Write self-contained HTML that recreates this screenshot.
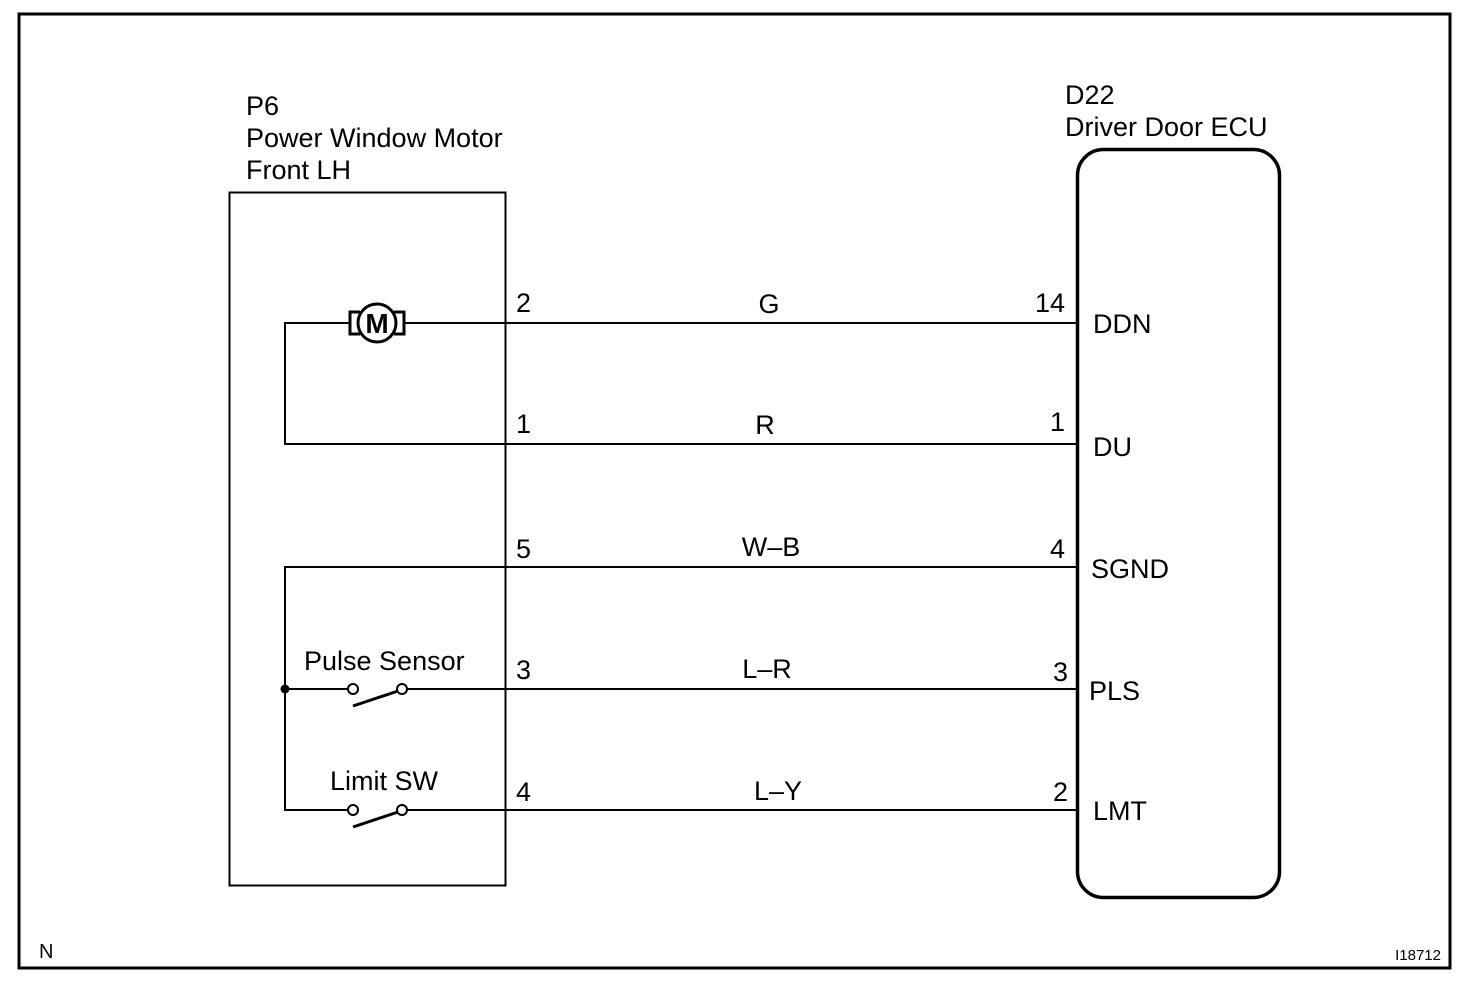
<!DOCTYPE html>
<html><head><meta charset="utf-8"><style>
html,body{margin:0;padding:0;background:#fff}
svg{display:block}
text{font-family:"Liberation Sans",Arial,sans-serif;fill:#000}
</style></head><body>
<svg width="1472" height="984" viewBox="0 0 1472 984" xmlns="http://www.w3.org/2000/svg">
<rect x="19" y="14" width="1431" height="954" fill="none" stroke="#000" stroke-width="3"/>
<rect x="229.5" y="192.5" width="276" height="693" fill="none" stroke="#000" stroke-width="2"/>
<rect x="1077.5" y="149.5" width="202" height="748" rx="26" ry="26" fill="none" stroke="#000" stroke-width="3.5"/>
<g stroke="#000" stroke-width="2" fill="none">
<line x1="405" y1="323" x2="1077" y2="323"/>
<polyline points="349,323 285,323 285,444 1077,444"/>
<polyline points="1077,567 285,567 285,810 348,810"/>
<line x1="285" y1="689" x2="348" y2="689"/>
<line x1="407" y1="689" x2="1077" y2="689"/>
<line x1="407" y1="810" x2="1077" y2="810"/>
<circle cx="353" cy="689" r="5" fill="#fff"/>
<circle cx="402" cy="689" r="5" fill="#fff"/>
<circle cx="353" cy="810" r="5" fill="#fff"/>
<circle cx="402" cy="810" r="5" fill="#fff"/>
<line x1="353" y1="706" x2="398" y2="691" stroke-width="3"/>
<line x1="353" y1="827" x2="398" y2="812" stroke-width="3"/>
<path d="M360,312 h-10 v22 h10" stroke-width="3"/>
<path d="M394,312 h10 v22 h-10" stroke-width="3"/>
<circle cx="377" cy="323" r="19" stroke-width="3" fill="#fff"/>
</g>
<circle cx="285" cy="689" r="4.5" fill="#000"/>
<text x="377" y="333" font-size="28" font-weight="bold" text-anchor="middle">M</text>
<g font-size="27">
<text x="246" y="115">P6</text>
<text x="246" y="147">Power Window Motor</text>
<text x="246" y="179">Front LH</text>
<text x="1065" y="104">D22</text>
<text x="1065" y="136">Driver Door ECU</text>
<text x="516" y="312">2</text>
<text x="516" y="433">1</text>
<text x="516" y="558">5</text>
<text x="516" y="679">3</text>
<text x="516" y="801">4</text>
<text x="769" y="313" text-anchor="middle">G</text>
<text x="765" y="434" text-anchor="middle">R</text>
<text x="771" y="556" text-anchor="middle">W–B</text>
<text x="767" y="678" text-anchor="middle">L–R</text>
<text x="778" y="800" text-anchor="middle">L–Y</text>
<text x="1065" y="312" text-anchor="end">14</text>
<text x="1065" y="431" text-anchor="end">1</text>
<text x="1065" y="558" text-anchor="end">4</text>
<text x="1068" y="681" text-anchor="end">3</text>
<text x="1068" y="801" text-anchor="end">2</text>
<text x="1093" y="333">DDN</text>
<text x="1093" y="456">DU</text>
<text x="1091" y="578">SGND</text>
<text x="1089" y="700">PLS</text>
<text x="1093" y="820">LMT</text>
<text x="304" y="670">Pulse Sensor</text>
<text x="330" y="790">Limit SW</text>
</g>
<text x="39" y="958" font-size="20">N</text>
<text x="1441" y="960" font-size="15" text-anchor="end">I18712</text>
</svg>
</body></html>
